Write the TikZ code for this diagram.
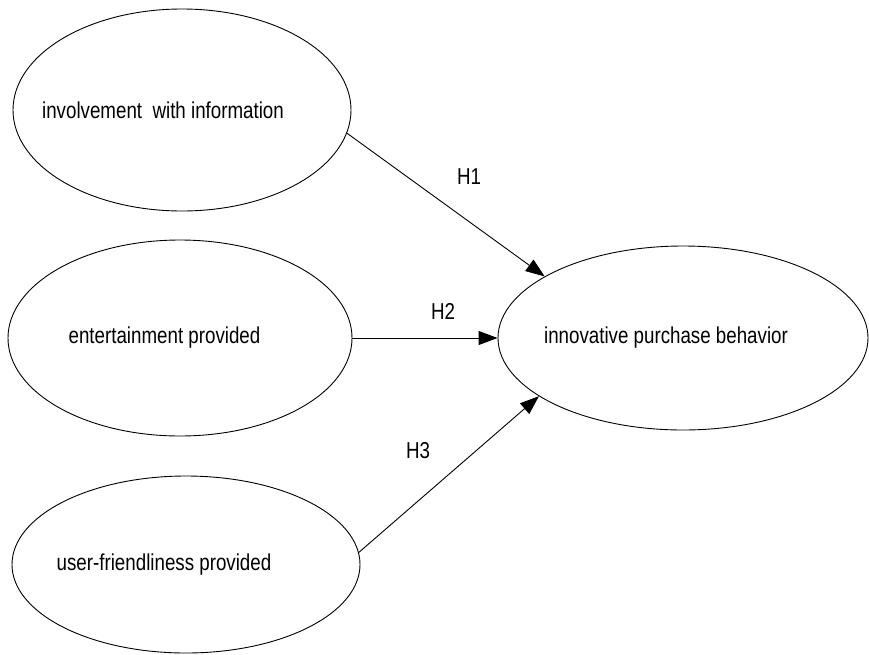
\documentclass[tikz,border=0pt]{standalone}
\usepackage{fontspec}
\setmainfont{Liberation Sans}[FakeStretch=0.815]
\usetikzlibrary{shapes.geometric,arrows.meta}
\begin{document}
\begin{tikzpicture}[x=1pt,y=-1pt,
  latent/.style={draw, ellipse, line width=0.9pt, inner sep=0pt, font=\fontsize{23}{27}\selectfont},
  hpath/.style={draw, line width=0.9pt, -{Triangle[length=19pt,width=14pt]}},
  hlabel/.style={font=\fontsize{23}{27}\selectfont, inner sep=0pt}]
\useasboundingbox (0,0) rectangle (869,654);
\node[latent, minimum width=338pt, minimum height=202pt] (e1) at (182,110) {\kern-38pt involvement\ \ with information};
\node[latent, minimum width=344pt, minimum height=196pt] (e2) at (180,338) {\kern-31pt entertainment provided};
\node[latent, minimum width=348pt, minimum height=177pt] (e3) at (186,564.5) {\kern-44pt user-friendliness provided};
\node[latent, minimum width=370pt, minimum height=184pt] (e4) at (683,338) {\kern-34pt innovative purchase behavior};
\draw[hpath] (e1.-8) -- (e4.156);
\draw[hpath] (e2.east) -- (e4.west);
\draw[hpath] (e3.4) -- (e4.202);
\node[hlabel] (h1) at (469,177) {H1};
\node[hlabel] (h2) at (443,311) {H2};
\node[hlabel] (h3) at (418,451) {H3};
\end{tikzpicture}
\end{document}
